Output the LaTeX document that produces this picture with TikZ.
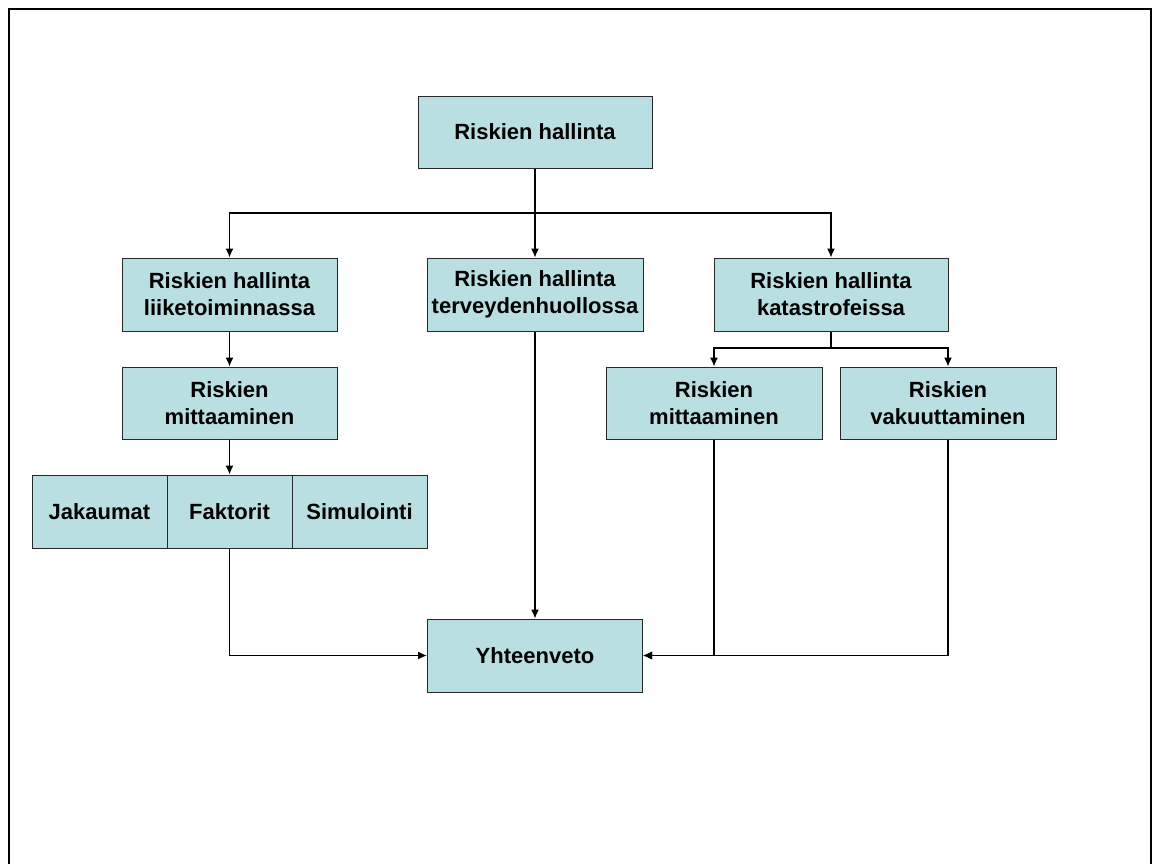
\documentclass[tikz,border=0pt]{standalone}
\usepackage{fontspec}
\setmainfont{Liberation Sans}
\usetikzlibrary{arrows.meta}
\definecolor{boxfill}{RGB}{185,223,227}
\definecolor{boxline}{RGB}{40,40,40}
\tikzset{
  box/.style={draw=boxline, line width=1pt, fill=boxfill, align=center,
    font=\fontsize{22}{27}\selectfont\bfseries, inner sep=0pt},
  arr/.style={draw=black, line width=1.3pt, -{Latex[length=9pt,width=8pt]}},
  ln/.style={draw=black, line width=1.3pt}
}
\begin{document}
\begin{tikzpicture}[x=1pt,y=-1pt]
\useasboundingbox (0,0) rectangle (1153,863);
\begin{scope}
\clip (0,0) rectangle (1153,863);
\draw[line width=2pt] (9,880) -- (9,9) -- (1151,9) -- (1151,880);
\end{scope}

\node[box, minimum width=234pt, minimum height=72pt] (top) at (535,132) {Riskien hallinta};

\node[box, minimum width=215pt, minimum height=73pt] (L1) at (229.5,294.5) {Riskien hallinta\\liiketoiminnassa};
\node[box, minimum width=216pt, minimum height=73pt] (M1) at (535,294.5) {Riskien hallinta\\terveydenhuollossa};
\node[box, minimum width=234pt, minimum height=73pt] (R1) at (831,294.5) {Riskien hallinta\\katastrofeissa};

\node[box, minimum width=215pt, minimum height=72pt] (L2) at (229.5,403) {Riskien\\mittaaminen};
\node[box, minimum width=216pt, minimum height=72pt] (R2a) at (714,403) {Riskien\\mittaaminen};
\node[box, minimum width=216pt, minimum height=72pt] (R2b) at (948,403) {Riskien\\vakuuttaminen};

\node[box, minimum width=135pt, minimum height=73pt] (J) at (99.5,511.5) {Jakaumat};
\node[box, minimum width=125pt, minimum height=73pt] (F) at (229.5,511.5) {Faktorit};
\node[box, minimum width=135pt, minimum height=73pt] (S) at (359.5,511.5) {Simulointi};

\node[box, minimum width=215pt, minimum height=73pt] (Y) at (535,655.5) {Yhteenveto};

\coordinate (c1) at (535,213);
\coordinate (c2) at (831,348);

\draw[ln] (top.south) -- (c1);
\draw[arr] (c1) -| (L1.north);
\draw[arr] (c1) -- (M1.north);
\draw[arr] (c1) -| (R1.north);

\draw[arr] (L1.south) -- (L2.north);
\draw[arr] (L2.south) -- (F.north);

\draw[ln] (R1.south) -- (c2);
\draw[arr] (c2) -| (R2a.north);
\draw[arr] (c2) -| (R2b.north);

\draw[arr] (F.south) |- (Y.west);
\draw[arr] (M1.south) -- (Y.north);
\draw[arr] (R2a.south) |- (Y.east);
\draw[arr] (R2b.south) |- (Y.east);
\end{tikzpicture}
\end{document}
